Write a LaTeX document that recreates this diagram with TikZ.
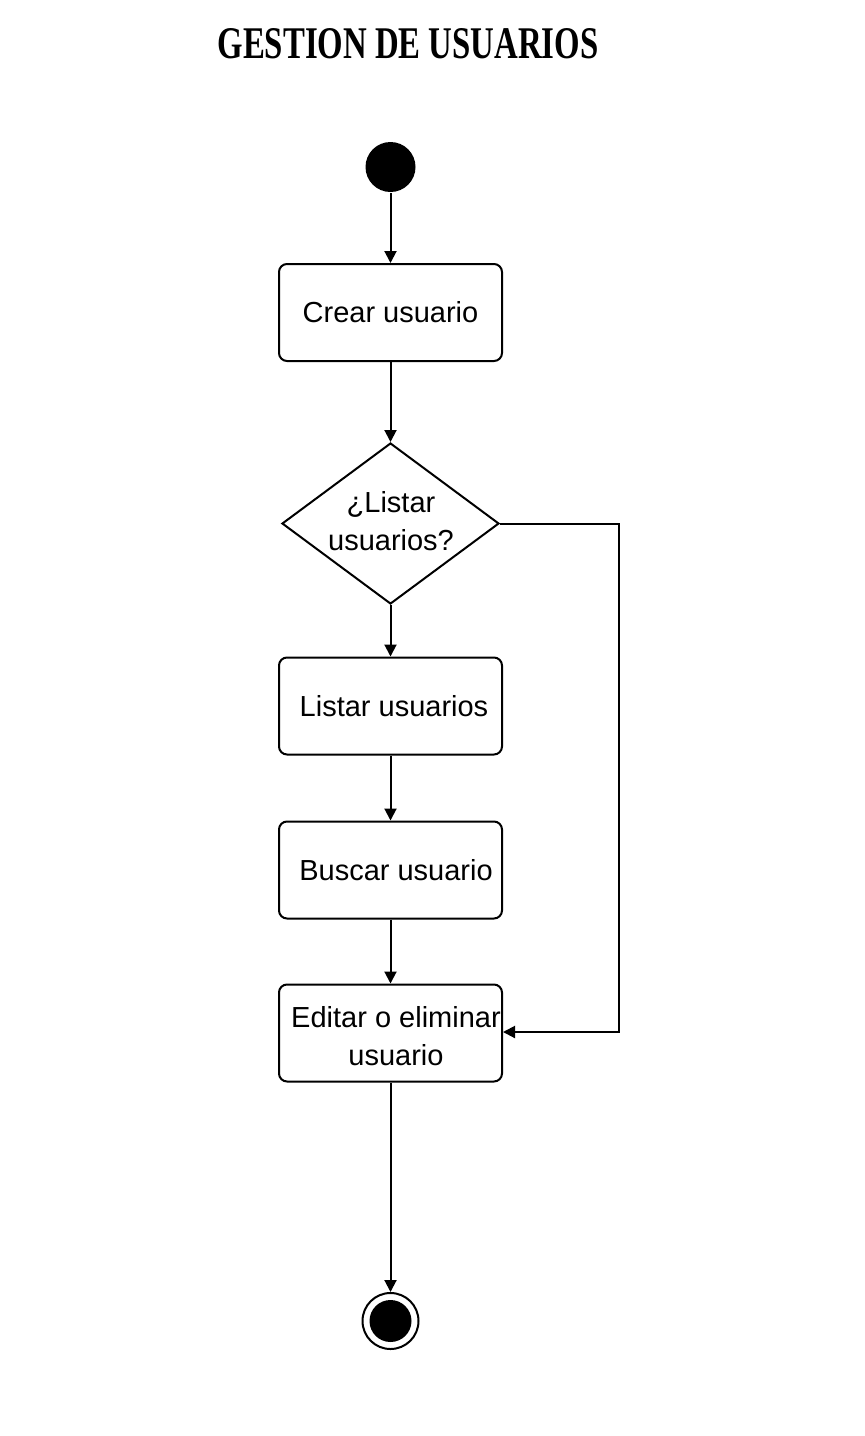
\documentclass[tikz,border=0pt]{standalone}
\usepackage{fontspec}
\usepackage{graphicx}
\setmainfont{Liberation Sans}
\newfontfamily\titlefont{Liberation Serif}
\usetikzlibrary{shapes.geometric,arrows.meta}
\begin{document}
\begin{tikzpicture}[x=0.5pt,y=-0.5pt,
  line width=1pt,
  act/.style={draw, rounded corners=4pt, minimum width=111.5pt, minimum height=48.5pt, inner sep=0pt},
  flow/.style={-{Triangle[length=6pt,width=6pt]}},
  lbl/.style={align=center, font=\fontsize{14.5pt}{19pt}\selectfont}
]
\useasboundingbox (0,0) rectangle (864,1436);
\node (title) at (408,44) {\resizebox{190.5pt}{15pt}{\titlefont\bfseries GESTION DE USUARIOS}};
\node[circle, fill=black, minimum size=25pt, inner sep=0pt] (start) at (390.5,167) {};
\node[act] (crear) at (390.5,312.5) {};
\node[lbl] (creartext) at (390.5,312.5) {Crear usuario};
\node[diamond, draw, minimum width=108.5pt, minimum height=80.5pt, inner sep=0pt] (dec) at (390.5,523.5) {};
\node[lbl] (dectext) at (391,521) {¿Listar\\usuarios?};
\node[act] (listar) at (390.5,706) {};
\node[lbl] (listartext) at (394,706) {Listar usuarios};
\node[act] (buscar) at (390.5,870) {};
\node[lbl] (buscartext) at (396,870) {Buscar usuario};
\node[act] (editar) at (390.5,1033) {};
\node[lbl] (editartext) at (396,1036) {Editar o eliminar\\usuario};
\node[circle, draw, minimum size=28pt, inner sep=0pt] (end) at (390.5,1321) {};
\node[circle, fill=black, minimum size=21pt, inner sep=0pt] (endin) at (end.center) {};
\coordinate (c1) at (619,523.5);
\coordinate (c2) at (619,1032);
\draw[flow] (start) -- (crear);
\draw[flow] (crear) -- (dec);
\draw[flow] (dec) -- (listar);
\draw[flow] (listar) -- (buscar);
\draw[flow] (buscar) -- (editar);
\draw[flow] (dec.east) -- (c1) -- (c2) -- (editar.east |- c2);
\draw[flow] (editar) -- (end);
\end{tikzpicture}
\end{document}
